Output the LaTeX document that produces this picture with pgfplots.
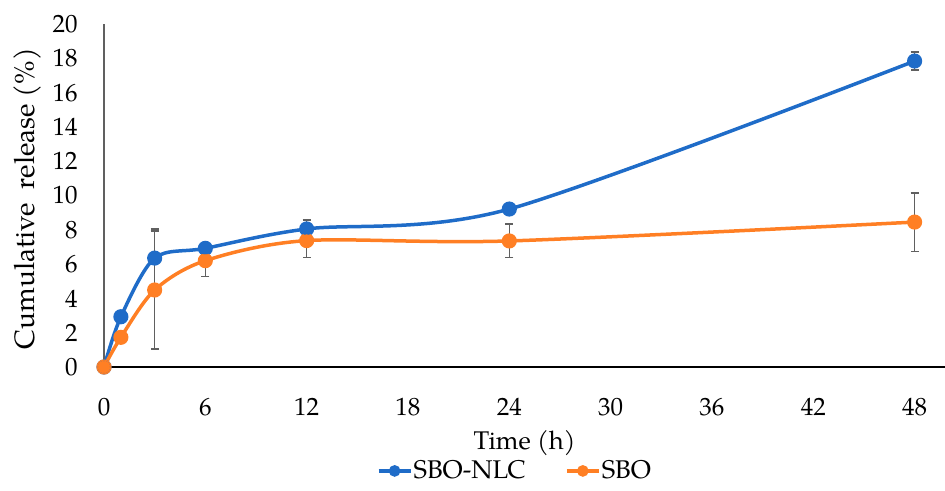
\documentclass[border=0pt]{standalone}
\usepackage{fontspec}
\setmainfont{TeX Gyre Pagella}
\usepackage{pgfplots}
\pgfplotsset{compat=1.18}
\definecolor{cblue}{HTML}{1F6CC8}
\definecolor{corange}{HTML}{FF7F24}
\definecolor{egray}{HTML}{606060}
\begin{document}
\begin{tikzpicture}
\useasboundingbox (-52pt,-62pt) rectangle (420.5pt,183.5pt);
\begin{axis}[
  at={(0pt,0pt)}, anchor=south west,
  scale only axis,
  width=420.5pt, height=171.5pt,
  xmin=0, xmax=49.8, ymin=0, ymax=20,
  xtick={0,6,...,48}, ytick={0,2,...,20},
  major tick length=0pt,
  axis x line*=bottom, axis y line*=left,
  x axis line style={black, line width=0.8pt, -},
  y axis line style={egray, line width=0.8pt, -},
  tick label style={font=\fontsize{12.5}{14}\selectfont, inner sep=0pt},
  /pgf/number format/assume math mode=true,
  xticklabel style={anchor=base, yshift=-24pt},
  yticklabel style={anchor=east, xshift=-13pt},
  xlabel={Time (h)}, ylabel={Cumulative\ \ release (\%)},
  every axis x label/.style={at={(axis description cs:0.5,0)}, anchor=base, yshift=-41pt,
    font=\fontsize{12.8}{14}\selectfont, inner sep=0pt},
  every axis y label/.style={at={(axis description cs:0,0.491)}, xshift=-38pt, anchor=center, rotate=90,
    font=\fontsize{14}{16}\selectfont, inner sep=0pt},
  legend style={at={(axis description cs:0.324,-0.303)}, anchor=west, draw=none, legend columns=2,
    inner sep=0pt, nodes={inner sep=0.6pt},
    font=\fontsize{12.8}{14}\selectfont, /tikz/every even column/.append style={column sep=19pt}},
  legend image code/.code={\draw[#1] (0pt,0pt) -- (16pt,0pt); \draw[#1, only marks, mark size=2pt] plot coordinates {(8pt,0pt)};},
  clip=false,
]
% SBO-NLC
\addplot[cblue, line width=1.75pt, smooth, tension=0.5, mark=*, mark size=2.9pt, mark options={solid}]
  coordinates {(0,0) (1,2.93) (3,6.35) (6,6.92) (12,8.05) (24,9.21) (48,17.84)};
\addlegendentry{SBO-NLC}
% SBO
\addplot[corange, line width=1.75pt, smooth, tension=0.5, mark=*, mark size=2.9pt, mark options={solid}]
  coordinates {(0,0) (1,1.73) (3,4.49) (6,6.2) (12,7.37) (24,7.35) (48,8.45)};
\addlegendentry{SBO}
% error bars
\addplot[draw=none, mark=none, forget plot, error bars/.cd, y dir=both, y explicit,
  error bar style={egray, line width=0.7pt}, error mark options={egray, rotate=90, mark size=2pt, line width=0.7pt}]
  coordinates {(3,6.35) +- (0,1.7) (6,6.92) +- (0,0.32) (12,8.05) +- (0,0.52) (48,17.84) +- (0,0.52)};
\addplot[draw=none, mark=none, forget plot, error bars/.cd, y dir=both, y explicit,
  error bar style={egray, line width=0.7pt}, error mark options={egray, rotate=90, mark size=2pt, line width=0.7pt}]
  coordinates {(3,4.49) +- (0,3.45) (6,6.2) +- (0,0.93) (12,7.37) +- (0,1.0) (24,7.35) +- (0,0.98) (48,8.45) +- (0,1.7)};
% redraw markers on top
\addplot[cblue, only marks, mark=*, mark size=2.9pt, forget plot]
  coordinates {(0,0) (1,2.93) (3,6.35) (6,6.92) (12,8.05) (24,9.21) (48,17.84)};
\addplot[corange, only marks, mark=*, mark size=2.9pt, forget plot]
  coordinates {(0,0) (1,1.73) (3,4.49) (6,6.2) (12,7.37) (24,7.35) (48,8.45)};
\end{axis}
\end{tikzpicture}
\end{document}
